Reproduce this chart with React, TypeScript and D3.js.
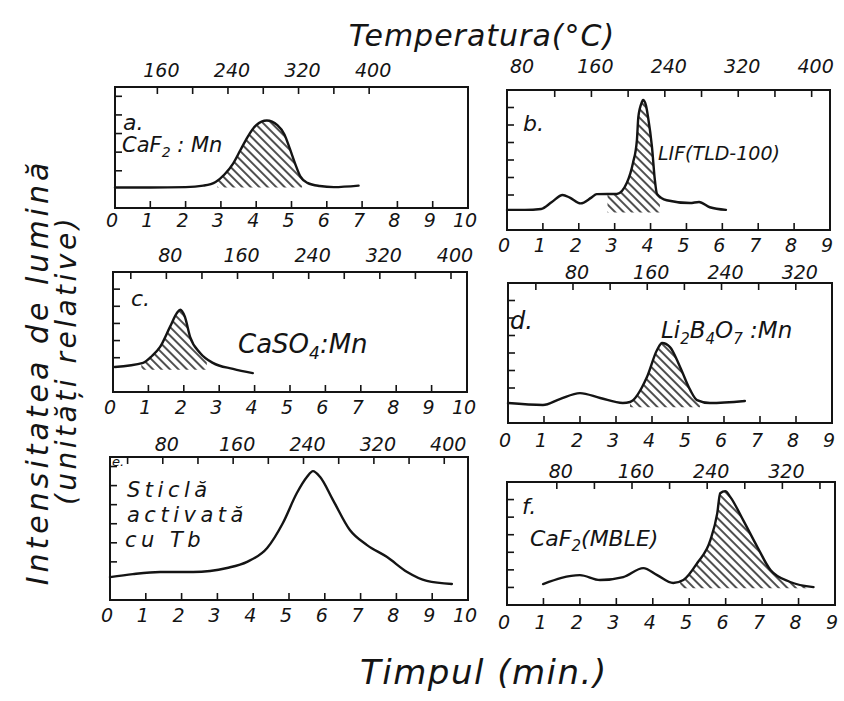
import React from "react";
import * as d3 from "d3";

// ---------- data (time in min, relative intensity) ----------
const aTime = [0, 1.0, 2.0, 2.5, 2.85, 3.1, 3.35, 3.55, 3.75, 4.0, 4.3, 4.6, 4.8, 4.95, 5.1, 5.25, 5.45, 5.8, 6.2, 6.9];
const aInt = [1.1, 1.1, 1.12, 1.2, 1.4, 1.8, 2.4, 3.1, 3.8, 4.45, 4.7, 4.45, 3.95, 3.2, 2.4, 1.7, 1.35, 1.18, 1.12, 1.2];

const bTime = [0, 0.5, 0.95, 1.25, 1.55, 1.75, 2.05, 2.35, 2.5, 2.8, 3.06, 3.34, 3.51, 3.62, 3.66, 3.76, 3.79, 3.87, 3.93, 4.04, 4.12, 4.18, 4.45, 5.1, 5.35, 5.65, 6.1];
const bInt = [1.15, 1.15, 1.2, 1.6, 2.0, 1.85, 1.52, 1.85, 2.05, 2.06, 2.06, 2.7, 3.83, 5.14, 6.46, 7.31, 7.43, 7.14, 6.46, 4.74, 2.86, 2.06, 1.7, 1.54, 1.6, 1.3, 1.15];

const cTime = [0.05, 0.85, 1.1, 1.33, 1.61, 1.81, 1.9, 2.03, 2.18, 2.46, 2.82, 3.39, 3.95];
const cInt = [1.46, 1.7, 2.1, 2.63, 3.8, 4.62, 4.8, 4.39, 3.2, 2.28, 1.7, 1.35, 1.1];

const dTime = [0, 0.97, 1.44, 2.0, 2.56, 3.19, 3.39, 3.86, 4.14, 4.28, 4.5, 4.78, 5.06, 5.25, 5.61, 6.58];
const dInt = [1.14, 1.03, 1.37, 1.71, 1.43, 1.14, 1.2, 2.63, 4.17, 4.57, 4.34, 3.2, 1.89, 1.31, 1.14, 1.26];

const eTime = [0, 0.64, 1.4, 2.32, 3.27, 3.83, 4.39, 4.83, 5.22, 5.5, 5.67, 5.87, 6.23, 6.7, 7.18, 7.74, 8.3, 8.85, 9.55];
const eInt = [1.2, 1.36, 1.47, 1.47, 1.68, 2.0, 2.73, 4.04, 5.61, 6.45, 6.76, 6.45, 5.24, 3.67, 2.88, 2.25, 1.47, 1.0, 0.84];

const fTime = [0.99, 2.0, 2.55, 3.19, 3.74, 4.12, 4.56, 4.84, 5.22, 5.58, 5.77, 5.85, 5.99, 6.13, 6.48, 6.87, 7.23, 7.77, 8.41];
const fInt = [1.19, 1.7, 1.42, 1.59, 2.1, 1.7, 1.25, 1.42, 2.39, 3.69, 5.23, 6.36, 6.48, 6.14, 4.83, 3.3, 1.99, 1.31, 1.02];

// shaded (integrated) intervals [start, end, base]
const aShade = [2.9, 5.3, 1.1];
const bShade = [2.8, 4.26, 1.0];
const cShade = [0.8, 2.65, 1.3];
const dShade = [3.39, 5.33, 0.9];
const fShade = [4.75, 8.3, 0.95];

// time tick labels
const timeLabels10 = [0, 1, 2, 3, 4, 5, 6, 7, 8, 9, 10];
const timeLabels9 = [0, 1, 2, 3, 4, 5, 6, 7, 8, 9];

// temperature ticks / labels (°C)
const tempTicksA = [160, 200, 240, 280, 320, 360, 400];
const tempLabelsA = [160, 240, 320, 400];
const tempTicksB = [120, 160, 200, 240, 280, 320, 360, 400];
const tempLabelsB = [80, 160, 240, 320, 400];
const tempTicksC = [40, 80, 120, 160, 200, 240, 280, 320, 360, 400];
const tempLabelsC = [80, 160, 240, 320, 400];
const tempTicksD = [40, 80, 120, 160, 200, 240, 280, 320];
const tempLabelsD = [80, 160, 240, 320];
const tempTicksE = [40, 80, 120, 160, 200, 240, 280, 320, 360, 400];
const tempLabelsE = [80, 160, 240, 320, 400];
const tempTicksF = [80, 120, 160, 200, 240, 280, 320, 360];
const tempLabelsF = [80, 160, 240, 320];

// intensity ticks
const yTicksA = [2, 3, 4, 5, 6];
const yTicksB = [2, 3, 4, 5, 6, 7];
const yTicksC = [2, 3, 4, 5, 6];
const yTicksD = [2, 3, 4, 5, 6, 7];
const yTicksE = [2, 3, 4, 5, 6, 7];
const yTicksF = [1, 2, 3, 4, 5, 6];

// ---------- layout ----------
const INK = "#141414";
const FONT = "'DejaVu Sans', 'Liberation Sans', sans-serif";

type Panel = {
  id: string;
  time: number[];
  int: number[];
  shade: number[] | null;
  box: { left: number; right: number; top: number; bottom: number };
  tMax: number;
  yMax: number;
  tempDomain: [number, number];
  tempTicks: number[];
  tempLabels: number[];
  timeLabels: number[];
  yTicks: number[];
  topGap: number;
  botGap: number;
};

const panels: Panel[] = [
  { id: "a", time: aTime, int: aInt, shade: aShade, box: { left: 115, right: 468, top: 87, bottom: 208 }, tMax: 10, yMax: 6.5, tempDomain: [112, 512], tempTicks: tempTicksA, tempLabels: tempLabelsA, timeLabels: timeLabels10, yTicks: yTicksA, topGap: 10, botGap: 19 },
  { id: "b", time: bTime, int: bInt, shade: bShade, box: { left: 507, right: 830, top: 90, bottom: 230 }, tMax: 9, yMax: 8, tempDomain: [68, 420], tempTicks: tempTicksB, tempLabels: tempLabelsB, timeLabels: timeLabels9, yTicks: yTicksB, topGap: 17, botGap: 22 },
  { id: "c", time: cTime, int: cInt, shade: cShade, box: { left: 113, right: 467, top: 272, bottom: 392 }, tMax: 10, yMax: 7, tempDomain: [20, 418], tempTicks: tempTicksC, tempLabels: tempLabelsC, timeLabels: timeLabels10, yTicks: yTicksC, topGap: 10, botGap: 22 },
  { id: "d", time: dTime, int: dInt, shade: dShade, box: { left: 508, right: 832, top: 283, bottom: 423 }, tMax: 9, yMax: 8, tempDomain: [10, 359], tempTicks: tempTicksD, tempLabels: tempLabelsD, timeLabels: timeLabels9, yTicks: yTicksD, topGap: 4, botGap: 24 },
  { id: "e", time: eTime, int: eInt, shade: null, box: { left: 110, right: 468, top: 457, bottom: 600 }, tMax: 10, yMax: 7.5, tempDomain: [20, 427], tempTicks: tempTicksE, tempLabels: tempLabelsE, timeLabels: timeLabels10, yTicks: yTicksE, topGap: 6, botGap: 22 },
  { id: "f", time: fTime, int: fInt, shade: fShade, box: { left: 507, right: 835, top: 482, bottom: 605 }, tMax: 9, yMax: 7, tempDomain: [27, 376], tempTicks: tempTicksF, tempLabels: tempLabelsF, timeLabels: timeLabels9, yTicks: yTicksF, topGap: 4, botGap: 24 },
];

function PanelView({ p }: { p: Panel }) {
  const { left, right, top, bottom } = p.box;
  const x = d3.scaleLinear().domain([0, p.tMax]).range([left, right]);
  const y = d3.scaleLinear().domain([0, p.yMax]).range([bottom, top]);
  const xt = d3.scaleLinear().domain(p.tempDomain).range([left, right]);
  const pts: [number, number][] = p.time.map((t, i) => [t, p.int[i]]);
  const line = d3
    .line<[number, number]>()
    .x((d) => x(d[0]))
    .y((d) => y(d[1]))
    .curve(d3.curveMonotoneX);
  const tick = 7;
  let shadeEl: React.ReactNode = null;
  if (p.shade) {
    const [s0, s1, base] = p.shade;
    const area = d3
      .area<[number, number]>()
      .x((d) => x(d[0]))
      .y0(y(base))
      .y1((d) => y(d[1]))
      .curve(d3.curveMonotoneX);
    shadeEl = (
      <g>
        <clipPath id={`clip-${p.id}`}>
          <rect x={x(s0)} y={top} width={x(s1) - x(s0)} height={bottom - top} />
        </clipPath>
        <path d={area(pts) || ""} fill="url(#hatch)" stroke="none" clipPath={`url(#clip-${p.id})`} />
      </g>
    );
  }
  return (
    <g>
      <rect x={left} y={top} width={right - left} height={bottom - top} fill="none" stroke={INK} strokeWidth={2} />
      {d3.range(1, p.tMax).map((t) => (
        <line key={`bt${t}`} x1={x(t)} x2={x(t)} y1={bottom} y2={bottom - tick} stroke={INK} strokeWidth={1.6} />
      ))}
      {p.tempTicks.map((T) => (
        <line key={`tt${T}`} x1={xt(T)} x2={xt(T)} y1={top} y2={top + tick} stroke={INK} strokeWidth={1.6} />
      ))}
      {p.yTicks.map((v) => (
        <line key={`yt${v}`} x1={left} x2={left + tick} y1={y(v)} y2={y(v)} stroke={INK} strokeWidth={1.6} />
      ))}
      {p.timeLabels.map((t) => (
        <text key={`bl${t}`} x={x(t) - 3} y={bottom + p.botGap} textAnchor="middle" fontSize={19} fontStyle="italic" fontFamily={FONT} fill={INK}>
          {t}
        </text>
      ))}
      {p.tempLabels.map((T) => (
        <text key={`tl${T}`} x={xt(T) + 4} y={top - p.topGap} textAnchor="middle" fontSize={19} fontStyle="italic" fontFamily={FONT} fill={INK}>
          {T}
        </text>
      ))}
      {shadeEl}
      <path d={line(pts) || ""} fill="none" stroke={INK} strokeWidth={2.4} strokeLinejoin="round" strokeLinecap="round" />
    </g>
  );
}

const txt = { fontFamily: FONT, fontStyle: "italic" as const, fill: INK };

export default function App() {
  return (
    <svg width={844} height={701} style={{ position: "absolute", left: 0, top: 0, background: "#fff" }}>
      <defs>
        <pattern id="hatch" patternUnits="userSpaceOnUse" width={6} height={6} patternTransform="rotate(-45)">
          <line x1={3} y1={-1} x2={3} y2={7} stroke={INK} strokeWidth={1.5} />
        </pattern>
      </defs>
      <rect x={0} y={0} width={844} height={701} fill="#fff" />

      {panels.map((p) => (
        <PanelView key={p.id} p={p} />
      ))}

      {/* panel annotations */}
      <text x={123} y={130} fontSize={22} {...txt}>a.</text>
      <text x={122} y={152} fontSize={21} {...txt}>
        CaF<tspan dy={5} fontSize={14}>2</tspan><tspan dy={-5}> : Mn</tspan>
      </text>

      <text x={523} y={131} fontSize={22} {...txt}>b.</text>
      <text x={658} y={160} fontSize={19} {...txt}>LIF(TLD-100)</text>

      <text x={131} y={306} fontSize={22} {...txt}>c.</text>
      <text x={238} y={353} fontSize={26} {...txt}>
        CaSO<tspan dy={6} fontSize={17}>4</tspan><tspan dy={-6}>:Mn</tspan>
      </text>

      <text x={510} y={329} fontSize={24} {...txt}>d.</text>
      <text x={661} y={338} fontSize={23} {...txt}>
        Li<tspan dy={6} fontSize={15}>2</tspan><tspan dy={-6}>B</tspan><tspan dy={6} fontSize={15}>4</tspan><tspan dy={-6}>O</tspan><tspan dy={6} fontSize={15}>7</tspan><tspan dy={-6}> :Mn</tspan>
      </text>

      <text x={112} y={466} fontSize={13} {...txt}>e.</text>
      <text x={127} y={497} fontSize={21} letterSpacing={4.5} {...txt}>Sticlă</text>
      <text x={127} y={522} fontSize={21} letterSpacing={4.5} {...txt}>activată</text>
      <text x={125} y={547} fontSize={21} letterSpacing={4.5} {...txt}>cu Tb</text>

      <text x={522} y={514} fontSize={22} {...txt}>f.</text>
      <text x={530} y={546} fontSize={22} {...txt}>
        CaF<tspan dy={5} fontSize={15}>2</tspan><tspan dy={-5}>(MBLE)</tspan>
      </text>

      {/* axis titles */}
      <text x={482} y={46} textAnchor="middle" fontSize={30} letterSpacing={1} {...txt}>Temperatura(°C)</text>
      <text x={360} y={684} fontSize={34} letterSpacing={1.5} {...txt}>Timpul (min.)</text>
      <text transform="translate(48,372) rotate(-90)" textAnchor="middle" fontSize={30} letterSpacing={4} {...txt}>
        Intensitatea de lumină
      </text>
      <text transform="translate(76,360) rotate(-90)" textAnchor="middle" fontSize={28} letterSpacing={3.5} {...txt}>
        (unități relative)
      </text>
    </svg>
  );
}
